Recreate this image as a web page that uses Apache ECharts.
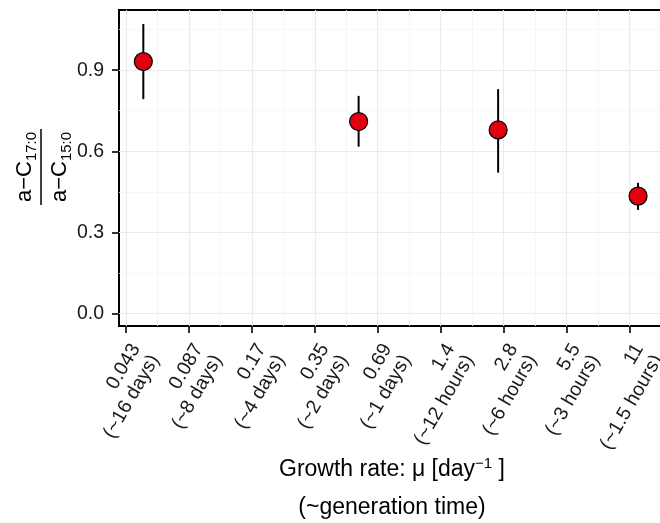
<!DOCTYPE html>
<html>
<head>
<meta charset="utf-8">
<script src="https://cdn.jsdelivr.net/npm/echarts@6/dist/echarts.min.js"></script>
<style>
  html, body { margin: 0; padding: 0; background: #ffffff; }
  #chart { width: 660px; height: 523px; }
</style>
</head>
<body>
<div id="chart"></div>
<script>
// Growth rate of each culture (day^-1) with the a-C17:0 / a-C15:0 ratio and its error bar
const growthRates = [0.0523, 0.561, 2.61, 12.2];
const ratioMean = [0.932, 0.710, 0.679, 0.434];
const ratioLow = [0.793, 0.617, 0.521, 0.383];
const ratioHigh = [1.071, 0.805, 0.830, 0.483];

// Tick marks on the growth-rate axis: ln(2) / doubling time
const xTickValues = [0.0433, 0.0866, 0.173, 0.347, 0.693, 1.386, 2.773, 5.545, 11.09];
const xTickRates = ['0.043', '0.087', '0.17', '0.35', '0.69', '1.4', '2.8', '5.5', '11'];
const xTickTimes = ['(~16 days)', '(~8 days)', '(~4 days)', '(~2 days)', '(~1 days)',
                    '(~12 hours)', '(~6 hours)', '(~3 hours)', '(~1.5 hours)'];
const yTickValues = [0, 0.3, 0.6, 0.9];
const yMinorValues = [0.15, 0.45, 0.75, 1.05];

const FONT = '"Liberation Sans", Arial, Helvetica, sans-serif';

// The growth-rate axis is drawn on a log2 scale
const lg = v => Math.log2(v);
const xTickLog = xTickValues.map(lg);
const xMinorLog = [];
for (let i = 0; i < xTickLog.length; i++) {
  const next = i + 1 < xTickLog.length ? xTickLog[i + 1] : xTickLog[i] + 1;
  xMinorLog.push((xTickLog[i] + next) / 2);
}
const xMin = lg(0.0400);
const xMax = lg(16.42);

const points = growthRates.map((g, i) => [lg(g), ratioMean[i]]);
const bars = growthRates.map((g, i) => [lg(g), ratioLow[i], ratioHigh[i]]);

// Panel grid lines (major and minor), drawn under the data
const majorStyle = { color: '#ebebeb', width: 1.1, type: 'solid' };
const minorStyle = { color: '#f5f5f5', width: 0.8, type: 'solid' };
const gridLines = []
  .concat(xMinorLog.map(v => ({ xAxis: v, lineStyle: minorStyle })))
  .concat(yMinorValues.map(v => ({ yAxis: v, lineStyle: minorStyle })))
  .concat(xTickLog.map(v => ({ xAxis: v, lineStyle: majorStyle })))
  .concat(yTickValues.map(v => ({ yAxis: v, lineStyle: majorStyle })));

function xLabel(value) {
  let best = 0;
  for (let i = 1; i < xTickLog.length; i++) {
    if (Math.abs(xTickLog[i] - value) < Math.abs(xTickLog[best] - value)) best = i;
  }
  return xTickRates[best] + '\n' + xTickTimes[best];
}

const chart = echarts.init(document.getElementById('chart'), null, { renderer: 'canvas' });

chart.setOption({
  animation: false,
  backgroundColor: '#ffffff',
  textStyle: { fontFamily: FONT },
  grid: {
    left: 119, top: 10, right: -5, bottom: 197,
    show: true, borderColor: '#000000', borderWidth: 2, backgroundColor: '#ffffff',
    containLabel: false, outerBoundsMode: 'none'
  },
  xAxis: {
    type: 'value',
    min: xMin, max: xMax,
    axisLine: { show: false, onZero: false },
    splitLine: { show: false },
    minorSplitLine: { show: false },
    axisTick: {
      show: true, customValues: xTickLog, length: 7, inside: false,
      lineStyle: { color: '#000000', width: 1.6 }
    },
    axisLabel: {
      show: true, customValues: xTickLog, formatter: xLabel,
      rotate: 60, align: 'right', verticalAlign: 'top',
      margin: 14, fontSize: 19.5, lineHeight: 22, color: '#1a1a1a', fontFamily: FONT,
      hideOverlap: false
    },
    name: '{t|Growth rate: μ [day}{sup|−1}{t| ]}\n{t|(~generation time)}',
    nameLocation: 'middle',
    nameGap: 125,
    nameMoveOverlap: false,
    nameTextStyle: {
      fontFamily: FONT, color: '#000000',
      rich: {
        t: { fontSize: 23, lineHeight: 38, color: '#000000', fontFamily: FONT },
        sup: { fontSize: 15, lineHeight: 15, padding: [0, 0, 12, 0], color: '#000000', fontFamily: FONT }
      }
    }
  },
  yAxis: {
    type: 'value',
    min: -0.047, max: 1.123,
    axisLine: { show: false, onZero: false },
    splitLine: { show: false },
    minorSplitLine: { show: false },
    axisTick: {
      show: true, customValues: yTickValues, length: 7, inside: false,
      lineStyle: { color: '#000000', width: 1.6 }
    },
    axisLabel: {
      show: true, customValues: yTickValues, formatter: v => v.toFixed(1),
      margin: 15, fontSize: 19.5, color: '#1a1a1a', fontFamily: FONT
    }
  },
  graphic: [{
    type: 'group',
    x: 41, y: 167,
    rotation: Math.PI / 2,
    children: [
      {
        type: 'text', x: 0, y: -16,
        style: {
          text: '{m|a−C}{s|17:0}',
          align: 'center', verticalAlign: 'middle', fill: '#000000',
          rich: {
            m: { fontSize: 22, fontFamily: FONT, fill: '#000000' },
            s: { fontSize: 15, fontFamily: FONT, fill: '#000000', padding: [14, 0, 0, 0] }
          }
        }
      },
      {
        type: 'line',
        shape: { x1: -38, y1: 0, x2: 38, y2: 0 },
        style: { stroke: '#000000', lineWidth: 1.5 }
      },
      {
        type: 'text', x: 0, y: 19,
        style: {
          text: '{m|a−C}{s|15:0}',
          align: 'center', verticalAlign: 'middle', fill: '#000000',
          rich: {
            m: { fontSize: 22, fontFamily: FONT, fill: '#000000' },
            s: { fontSize: 15, fontFamily: FONT, fill: '#000000', padding: [14, 0, 0, 0] }
          }
        }
      }
    ]
  }],
  series: [
    {
      name: 'grid lines',
      type: 'line',
      data: [],
      silent: true,
      z: 1,
      markLine: {
        z: 1,
        silent: true,
        symbol: ['none', 'none'],
        label: { show: false },
        animation: false,
        data: gridLines
      }
    },
    {
      name: 'error bars',
      type: 'custom',
      z: 3,
      data: bars,
      renderItem: function (params, api) {
        const x = api.value(0);
        const lo = api.coord([x, api.value(1)]);
        const hi = api.coord([x, api.value(2)]);
        return {
          type: 'line',
          shape: { x1: lo[0], y1: lo[1], x2: hi[0], y2: hi[1] },
          style: { stroke: '#000000', lineWidth: 2 }
        };
      }
    },
    {
      name: 'ratio',
      type: 'scatter',
      z: 4,
      data: points,
      symbol: 'circle',
      symbolSize: 18,
      itemStyle: { color: '#e00010', borderColor: '#000000', borderWidth: 1.2, opacity: 1 }
    }
  ]
});
</script>
</body>
</html>
